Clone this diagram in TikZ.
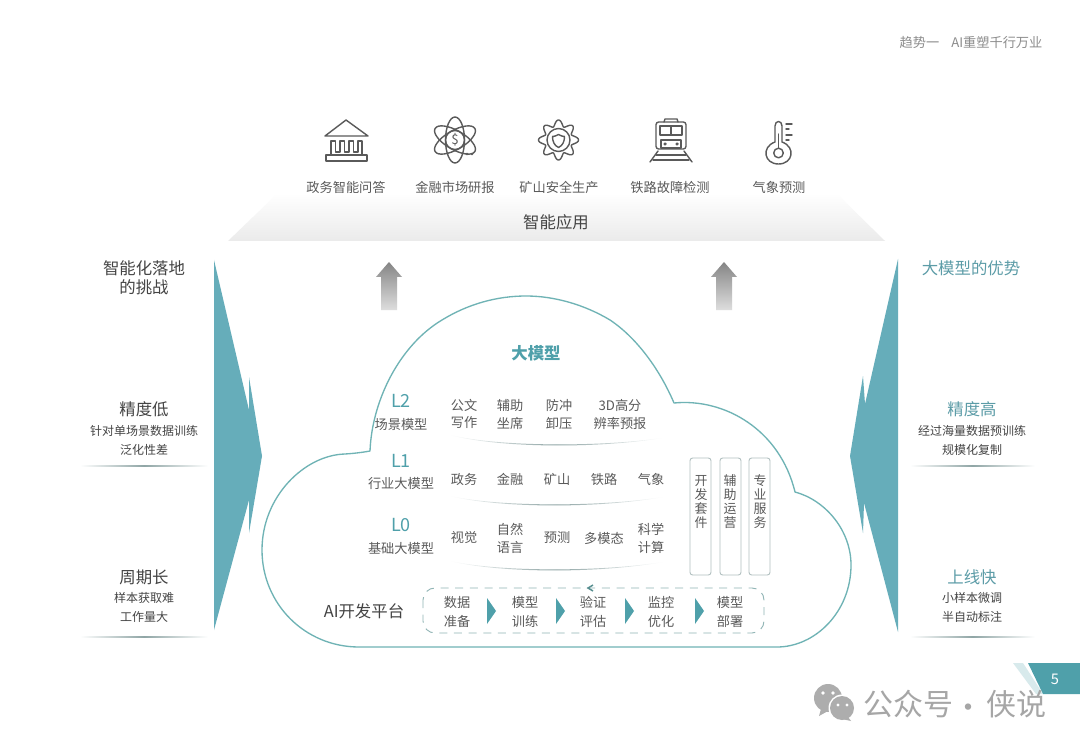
\documentclass[tikz,border=0pt]{standalone}
\usepackage{fontspec}
\setmainfont{Noto Sans CJK SC}
\definecolor{teal1}{HTML}{66ADBA}
\definecolor{teal2}{HTML}{4FA0AA}
\definecolor{cloudc}{HTML}{6FB3B5}
\definecolor{txt}{HTML}{5A5A5A}
\definecolor{txtd}{HTML}{444444}
\definecolor{icn}{HTML}{5A5A5A}
\definecolor{sep}{HTML}{8FA5A5}
\tikzset{
 lb/.style={inner sep=0pt,outer sep=0pt,text=txt,font=\fontsize{9.9pt}{12pt}\selectfont},
 vt/.style={inner sep=0pt,outer sep=0pt,text=txt,align=center,font=\fontsize{9.7pt}{10.5pt}\selectfont},
 sm/.style={inner sep=0pt,text=txtd,font=\fontsize{9pt}{11pt}\selectfont},
 hd/.style={inner sep=0pt,text=txtd,font=\fontsize{12.3pt}{15pt}\selectfont},
 tl/.style={inner sep=0pt,text=teal1!90!black,font=\fontsize{12.3pt}{15pt}\selectfont},
 lv/.style={inner sep=0pt,text=teal2,font=\fontsize{13.5pt}{16pt}\selectfont},
 vbox/.style={draw=sep!70!white,line width=.7pt,rounded corners=2pt},
 icon/.style={draw=icn,line width=1.05pt,line join=round,line cap=round},
 fadeline/.style={left color=white,right color=white,middle color=sep,draw=none},
 tri/.style={fill=teal2,draw=none},
}
\begin{document}
\begin{tikzpicture}[x=0.75pt,y=-0.75pt]
\useasboundingbox (0,0) rectangle (1080,748);
\fill[white] (0,0) rectangle (1080,748);
% header
\node[inner sep=0pt,text=black!45,font=\fontsize{9.9pt}{12pt}\selectfont] (hdr) at (971,43) {趋势一\hspace{9pt}AI重塑千行万业};
% application band
\path[top color=white,bottom color=black!8,draw=none] (278,193) -- (836,193) -- (885,241) -- (228,241) -- cycle;
\node[hd] (app) at (556,222) {智能应用};
% icons
\draw[icon] (325,136) -- (346,120) -- (368,136) -- cycle;
\draw[icon] (326,161) rectangle (367,155);
\draw[icon] (331,155) -- (331,141) -- (335.5,141) -- (335.5,152) -- (340,152) -- (340,141) -- (344.5,141) -- (344.5,152) -- (349,152) -- (349,141) -- (353.5,141) -- (353.5,152) -- (358,152) -- (358,141) -- (362,141) -- (362,155);
\draw[icon] (455,140) circle[radius=9.5];
\draw[icon,rotate around={90:(455,140)}] (455,140) ellipse (23 and 9.5);
\draw[icon,rotate around={30:(455,140)}] (455,140) ellipse (23 and 9.5);
\draw[icon,rotate around={-30:(455,140)}] (455,140) ellipse (23 and 9.5);
\node[inner sep=0pt,text=icn,font=\fontsize{10pt}{12pt}\selectfont] (dollar) at (455,140) {\$};
\fill[icn] (467,154) circle[radius=1.3] (472,154) circle[radius=1.3];
\draw[icon] plot[domain=0:360,samples=220,smooth] ({558.5+(17+3*cos(8*\x))*cos(\x)},{140+(17+3*cos(8*\x))*sin(\x)});
\draw[icon] (558.5,140) circle[radius=11.5];
\draw[icon] (558.5,134.5) .. controls (561,136) and (563,136.5) .. (564.5,136.5) .. controls (564.5,141) and (563,145.5) .. (558.5,147.5) .. controls (554,145.5) and (552.5,141) .. (552.5,136.5) .. controls (554,136.5) and (556,136) .. (558.5,134.5) -- cycle;
\draw[icon,rounded corners=2pt] (656,149) -- (656,122) -- (686,122) -- (686,149) -- cycle;
\draw[icon] (664,122) -- (665,119) -- (677,119) -- (678,122);
\draw[icon] (660,126) rectangle (682,135);
\draw[icon] (671,126) -- (671,135);
\draw[icon] (661,140) rectangle (681,148);
\draw[icon] (665,144) circle[radius=1];
\draw[icon] (677,144) circle[radius=1];
\draw[icon] (658,151) -- (650,162) (684,151) -- (692,162);
\draw[icon] (656,155) -- (686,155);
\draw[icon] (653,160) -- (689,160);
\draw[icon] (775,142) -- (775,126) .. controls (775,120) and (782,120) .. (782,126) -- (782,142) .. controls (796,147) and (793,164) .. (778.5,164) .. controls (764,164) and (761,147) .. (775,142) -- cycle;
\draw[icon] (778.5,153) circle[radius=4.8];
\draw[icon] (778.5,148) -- (778.5,134);
\draw[icon] (786,124) -- (792,124) (786,129) -- (789,129) (786,135) -- (792,135) (786,140) -- (789,140);
% icon labels
\node[lb] (a1) at (346,187) {政务智能问答};
\node[lb] (a2) at (455,187) {金融市场研报};
\node[lb] (a3) at (559,187) {矿山安全生产};
\node[lb] (a4) at (670,187) {铁路故障检测};
\node[lb] (a5) at (779,187) {气象预测};
% up arrows
\path[top color=black!48,bottom color=black!13] (389,262) -- (402,277) -- (397,277) -- (397,310) -- (381,310) -- (381,277) -- (376,277) -- cycle;
\path[top color=black!48,bottom color=black!13] (724,262) -- (737,277) -- (732,277) -- (732,310) -- (716,310) -- (716,277) -- (711,277) -- cycle;
% side arrows
\fill[teal1] (214,260) -- (249,410) -- (249,377) -- (262,456) -- (249,533) -- (249,500) -- (214,630) -- cycle;
\fill[teal1] (898,259) -- (865,404) -- (863,376) -- (850,456) -- (863,533) -- (864,503) -- (898,632) -- cycle;
% left column
\node[hd] (l1) at (144,268) {智能化落地};
\node[hd] (l2) at (144,287) {的挑战};
\node[hd] (l3) at (144,409) {精度低};
\node[sm] (l4) at (144,431) {针对单场景数据训练};
\node[sm] (l5) at (144,450) {泛化性差};
\path[fadeline] (80,465.6) rectangle (208,466.6);
\node[hd] (l6) at (144,577) {周期长};
\node[sm] (l7) at (144,598) {样本获取难};
\node[sm] (l8) at (144,617) {工作量大};
\path[fadeline] (80,636.6) rectangle (208,637.6);
% right column
\node[tl] (r1) at (971,268) {大模型的优势};
\node[tl] (r3) at (972,409) {精度高};
\node[sm] (r4) at (972,431) {经过海量数据预训练};
\node[sm] (r5) at (972,450) {规模化复制};
\path[fadeline] (910,465.6) rectangle (1035,466.6);
\node[tl] (r6) at (972,577) {上线快};
\node[sm] (r7) at (972,598) {小样本微调};
\node[sm] (r8) at (972,617) {半自动标注};
\path[fadeline] (910,636.6) rectangle (1035,637.6);
% cloud
\draw[cloudc,line width=1pt,line join=round] (359,647)
 .. controls (305,647) and (262,604) .. (262,550)
 .. controls (262,496) and (305,455) .. (345,454)
 .. controls (353,453.5) and (362,452.5) .. (370,451)
 .. controls (372,400) and (400,345) .. (442,320)
 .. controls (468,304) and (497,296) .. (526,296)
 .. controls (555,296) and (585,305) .. (610,320)
 .. controls (637,338) and (660,370) .. (674,403)
 .. controls (725,398) and (780,430) .. (795,492)
 .. controls (825,500) and (851,530) .. (851,565)
 .. controls (851,612) and (815,647) .. (777,647)
 -- cycle;
\node[inner sep=0pt,text=teal2,font=\fontsize{12.3pt}{15pt}\selectfont\bfseries] (big) at (536,353) {大模型};
% levels
\node[lv] (L2) at (401,401) {L2};
\node[lb] (L2t) at (401,424) {场景模型};
\node[lv] (L1) at (401,461) {L1};
\node[lb] (L1t) at (401,483) {行业大模型};
\node[lv] (L0) at (401,525) {L0};
\node[lb] (L0t) at (401,548) {基础大模型};
% row 2
\node[lb] (i1) at (464,405) {公文};
\node[lb] (i2) at (464,423) {写作};
\node[lb] (i3) at (510,405) {辅助};
\node[lb] (i4) at (510,423) {坐席};
\node[lb] (i5) at (559,405) {防冲};
\node[lb] (i6) at (559,423) {卸压};
\node[lb] (i7) at (620,405) {3D高分};
\node[lb] (i8) at (620,423) {辨率预报};
\path[fadeline] (450,435) .. controls (500,447) and (600,447) .. (662,438) .. controls (600,448.4) and (500,448.4) .. (450,435) -- cycle;
% row 1
\node[lb] (j1) at (464,479) {政务};
\node[lb] (j2) at (510,479) {金融};
\node[lb] (j3) at (557,479) {矿山};
\node[lb] (j4) at (604,479) {铁路};
\node[lb] (j5) at (651,479) {气象};
\path[fadeline] (450,496) .. controls (500,507) and (600,507) .. (663,497) .. controls (600,508.4) and (500,508.4) .. (450,496) -- cycle;
% row 0
\node[lb] (k1) at (464,538) {视觉};
\node[lb] (k2) at (510,529) {自然};
\node[lb] (k3) at (510,547) {语言};
\node[lb] (k4) at (557,538) {预测};
\node[lb] (k5) at (604,538) {多模态};
\node[lb] (k6) at (651,529) {科学};
\node[lb] (k7) at (651,547) {计算};
\path[fadeline] (450,561) .. controls (500,572) and (600,572) .. (663,562) .. controls (600,573.4) and (500,573.4) .. (450,561) -- cycle;
% vertical boxes
\draw[vbox] (690,458) rectangle (711,575);
\draw[vbox] (720,458) rectangle (741,575);
\draw[vbox] (749,458) rectangle (770,575);
\node[vt] (v1) at (701,502) {开\\发\\套\\件};
\node[vt] (v2) at (730,502) {辅\\助\\运\\营};
\node[vt] (v3) at (760,502) {专\\业\\服\\务};
% platform
\node[hd] (plat) at (364,611) {AI开发平台};
\draw[draw=cloudc!65!gray!80!white,line width=.7pt,dash pattern=on 6pt off 5pt,rounded corners=9pt] (423,588) rectangle (764,633);
\draw[draw=cloudc!80!black,line width=1.1pt] (593,585) -- (588,588) -- (593,591);
\node[lb] (p1) at (457,602) {数据};
\node[lb] (p2) at (457,621) {准备};
\node[lb] (p3) at (525,602) {模型};
\node[lb] (p4) at (525,621) {训练};
\node[lb] (p5) at (593,602) {验证};
\node[lb] (p6) at (593,621) {评估};
\node[lb] (p7) at (661,602) {监控};
\node[lb] (p8) at (661,621) {优化};
\node[lb] (p9) at (730,602) {模型};
\node[lb] (p10) at (730,621) {部署};
\fill[tri] (487,598) -- (496,611) -- (487,624) -- cycle;
\fill[tri] (556,598) -- (565,611) -- (556,624) -- cycle;
\fill[tri] (625,598) -- (634,611) -- (625,624) -- cycle;
\fill[tri] (695,598) -- (704,611) -- (695,624) -- cycle;
% page tab
\fill[teal2!22!white] (1013,663) -- (1023,663) -- (1043,694) -- (1036,694) -- cycle;
\fill[teal2] (1028,663) -- (1080,663) -- (1080,694) -- (1043,694) -- cycle;
\node[inner sep=0pt,text=white,font=\fontsize{11pt}{13pt}\selectfont] (pg) at (1055,679) {5};
% watermark
\fill[black!32] (828,698) circle[radius=14];
\fill[black!32] (821,709) -- (819,716) -- (828,711) -- cycle;
\fill[white] (842,708) circle[radius=13.5];
\fill[black!32] (842,708) circle[radius=12];
\fill[black!32] (848,717) -- (851,721) -- (842,719) -- cycle;
\fill[white] (823,693) circle[radius=1.8] (833,693) circle[radius=1.8] (838,705) circle[radius=1.6] (847,705) circle[radius=1.6];
\node[inner sep=0pt,text=black!35,font=\fontsize{22.5pt}{26pt}\selectfont] (wm1) at (908,704) {公众号};
\node[inner sep=0pt,text=black!35,font=\fontsize{22.5pt}{26pt}\selectfont] (wm2) at (968,711) {·};
\node[inner sep=0pt,text=black!35,font=\fontsize{22.5pt}{26pt}\selectfont] (wm3) at (1016,704) {侠说};
\end{tikzpicture}
\end{document}
